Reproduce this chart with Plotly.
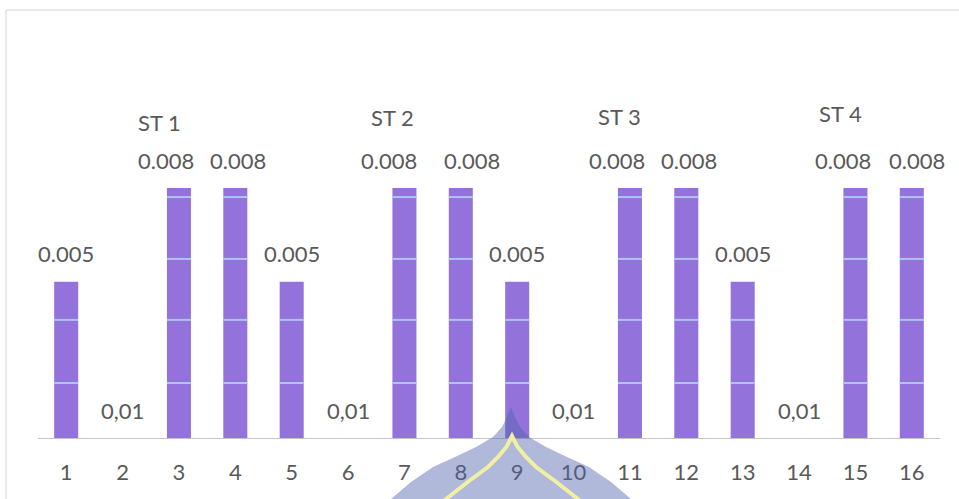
import plotly.graph_objects as go

# Sample positions along the transect and measured values
positions = [str(i) for i in range(1, 17)]
values = [0.005, 0, 0.008, 0.008, 0.005,
          0, 0.008, 0.008, 0.005,
          0, 0.008, 0.008, 0.005,
          0, 0.008, 0.008]
value_labels = ["0.005", "0,01", "0.008", "0.008", "0.005",
                "0,01", "0.008", "0.008", "0.005",
                "0,01", "0.008", "0.008", "0.005",
                "0,01", "0.008", "0.008"]
# horizontal nudge (px) so neighbouring labels don't collide
label_nudge = [0, 0, -13, 3, 0,
               0, -15, 11, 0,
               0, -13, 3, 0,
               0, -12, 5]

# Station group titles
stations = ["ST 1", "ST 2", "ST 3", "ST 4"]
station_x = [2.66, 6.78, 10.82, 14.73]
station_y = [0.0101, 0.01027, 0.0103, 0.01040]

# Light bands that cross the bars
band_levels = [0.00176, 0.00378, 0.00573, 0.00771]

W, H = 959, 499
ML, MR, MT, MB = 38, 19, 63, 61
PW, PH = W - ML - MR, H - MT - MB
Y_MAX = 0.012
TEXT = "#595959"
FONT = "Lato"
FSIZE = 22
BAR = "#9372db"
BAR_W = 0.426


def px(x):
    return (x - ML) / PW


def py(y):
    return 1 - (y - MT) / PH


fig = go.Figure(go.Bar(
    x=list(range(1, 17)), y=values,
    marker=dict(color=BAR, line=dict(width=0)),
    width=BAR_W, hoverinfo="skip",
))

shapes = []
# bands over each bar
for i, v in enumerate(values, start=1):
    for lvl in band_levels:
        if lvl < v:
            shapes.append(dict(type="line", xref="x", yref="y",
                               x0=i - BAR_W / 2, x1=i + BAR_W / 2, y0=lvl, y1=lvl,
                               line=dict(color="#aec4f4", width=2), layer="above"))

# chart frame
shapes.append(dict(type="rect", xref="paper", yref="paper",
                   x0=px(6), x1=px(975), y0=py(10), y1=py(520),
                   line=dict(color="#d4d4d4", width=1), fillcolor="rgba(0,0,0,0)", layer="below"))


# emblem at the bottom of the page: profile given as (depth below apex, half width)
def arch(cx, top, profile, closed):
    right = [(cx + w, top + d) for d, w in profile]
    left = [(cx - w, top + d) for d, w in reversed(profile)]
    pts = left + right[1:]
    cmd = "M " + " L ".join(f"{px(x)},{py(y)}" for x, y in pts)
    return cmd + (" Z" if closed else "")


blue_profile = [(0, 0), (10, 4), (20, 9), (30, 18), (40, 35), (50, 56),
                (60, 78), (75, 100), (92, 120), (115, 142)]
yellow_profile = [(0, 0), (10, 5), (20, 13), (31, 24), (45, 43), (63, 66),
                  (84, 90), (95, 102)]
shapes.append(dict(type="path", xref="paper", yref="paper",
                   path=arch(511, 407, blue_profile, True),
                   fillcolor="rgba(80,100,170,0.45)", line=dict(width=0), layer="above"))
shapes.append(dict(type="path", xref="paper", yref="paper",
                   path=arch(512, 436, yellow_profile, False),
                   line=dict(color="#f1f0a2", width=4), layer="above"))

annotations = []
for i, (v, lab, dx) in enumerate(zip(values, value_labels, label_nudge), start=1):
    annotations.append(dict(x=i, y=v, xref="x", yref="y", text=lab, showarrow=False,
                            yanchor="middle", yshift=28, xshift=dx,
                            font=dict(family=FONT, size=FSIZE, color=TEXT)))
for s, sx, sy in zip(stations, station_x, station_y):
    annotations.append(dict(x=sx, y=sy, xref="x", yref="y", text=s, showarrow=False,
                            yanchor="middle", font=dict(family=FONT, size=FSIZE, color=TEXT)))

fig.update_layout(
    width=W, height=H,
    margin=dict(l=ML, r=MR, t=MT, b=MB),
    paper_bgcolor="white", plot_bgcolor="white",
    showlegend=False,
    bargap=0.574,
    shapes=shapes,
    annotations=annotations,
    xaxis=dict(range=[0.5, 16.5], tickmode="array", tickvals=list(range(1, 17)),
               ticktext=positions, showgrid=False, zeroline=False,
               showline=True, linecolor="#c4c4c4", linewidth=1,
               ticks="", ticklabelstandoff=15,
               tickfont=dict(family=FONT, size=FSIZE, color=TEXT)),
    yaxis=dict(range=[0, Y_MAX], visible=False, showgrid=False, zeroline=False),
)

fig.write_html("out.html")
